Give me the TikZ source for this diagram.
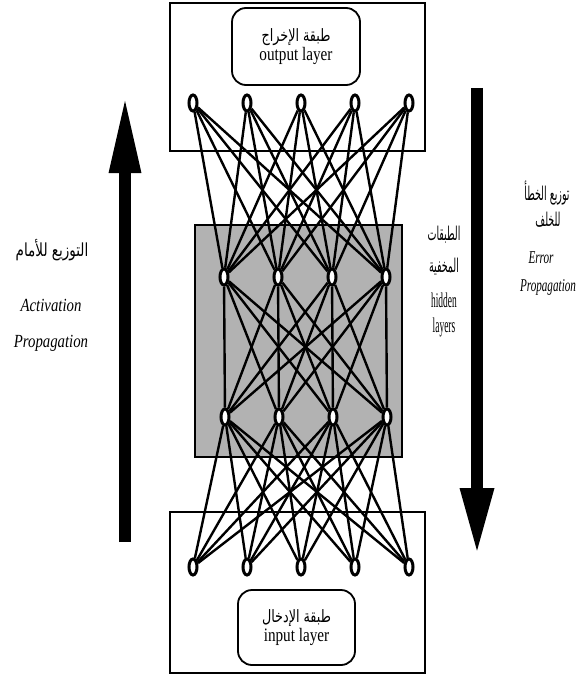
\documentclass[tikz,border=0pt]{standalone}
\usepackage{fontspec}
\setmainfont{Liberation Serif}
\newfontfamily\boxfont{Liberation Serif}[FakeStretch=0.8]
\newfontfamily\errfont{Liberation Serif}[FakeStretch=0.62]
\newfontfamily\hidfont{Liberation Serif}[FakeStretch=0.45]
\newfontfamily\arfont[Script=Arabic,FakeStretch=0.75]{DejaVu Sans}
\newfontfamily\arthinfont[Script=Arabic,FakeStretch=0.5]{DejaVu Sans}
\TeXXeTstate=1
\usetikzlibrary{shapes.geometric, arrows.meta, positioning}

\begin{document}
\begin{tikzpicture}[
    x=1pt, y=-1pt,
    neuron/.style={ellipse, draw, line width=3pt, fill=white, minimum width=8pt, minimum height=16pt, inner sep=0pt},
    layerbox/.style={rectangle, draw, line width=2.4pt},
    labelbox/.style={rectangle, rounded corners=14pt, draw, line width=1.8pt, fill=white, align=center, inner sep=0pt},
    link/.style={line width=2.4pt},
    bigarrow/.style={line width=12pt, -{Triangle[length=78pt, width=29pt]}},
    artext/.style={font={\arfont\fontsize{18}{20}\selectfont}, inner sep=0pt},
    arthin/.style={font={\arthinfont\fontsize{19}{21}\selectfont}, inner sep=0pt},
    sidetext/.style={font={\boxfont\itshape\fontsize{18.5}{20}\selectfont}, inner sep=0pt},
    errtext/.style={font={\errfont\itshape\fontsize{18}{20}\selectfont}, inner sep=0pt},
    hidtext/.style={font={\hidfont\fontsize{21}{22}\selectfont}, inner sep=0pt}
]
\useasboundingbox (0,0) rectangle (582,679);

% layer boxes
\node[layerbox, minimum width=255pt, minimum height=148pt] (outbox) at (297.5,77) {};
\node[layerbox, minimum width=255pt, minimum height=161pt] (inbox) at (297.5,592.5) {};
\node[layerbox, fill=black!30, minimum width=207pt, minimum height=232pt] (hidbox) at (298.5,341) {};

% layer labels
\node[labelbox, minimum width=128pt, minimum height=77pt] (outlabel) at (296,46.5)
    {{\arfont\fontsize{17}{19}\selectfont\beginR طبقة الإخراج\endR}\\[1pt]{\boxfont\fontsize{19}{20}\selectfont output layer}};
\node[labelbox, minimum width=117pt, minimum height=75pt] (inlabel) at (296.5,627.5)
    {{\arfont\fontsize{17}{19}\selectfont\beginR طبقة الإدخال\endR}\\[1pt]{\boxfont\fontsize{19}{20}\selectfont input layer}};

% neurons
\node[neuron] (out1) at (193,103) {};
\node[neuron, right=43pt of out1] (out2) {};
\node[neuron, right=43pt of out2] (out3) {};
\node[neuron, right=43pt of out3] (out4) {};
\node[neuron, right=43pt of out4] (out5) {};
\node[neuron] (hida1) at (224,277) {};
\node[neuron, right=43pt of hida1] (hida2) {};
\node[neuron, right=43pt of hida2] (hida3) {};
\node[neuron, right=43pt of hida3] (hida4) {};
\node[neuron] (hidb1) at (225,417) {};
\node[neuron, right=43pt of hidb1] (hidb2) {};
\node[neuron, right=43pt of hidb2] (hidb3) {};
\node[neuron, right=43pt of hidb3] (hidb4) {};
\node[neuron] (in1) at (193,567) {};
\node[neuron, right=43pt of in1] (in2) {};
\node[neuron, right=43pt of in2] (in3) {};
\node[neuron, right=43pt of in3] (in4) {};
\node[neuron, right=43pt of in4] (in5) {};

% weights
\foreach \i in {1,...,5} \foreach \j in {1,...,4} \draw[link] (out\i) -- (hida\j);
\foreach \i in {1,...,4} \foreach \j in {1,...,4} \draw[link] (hida\i) -- (hidb\j);
\foreach \i in {1,...,5} \foreach \j in {1,...,4} \draw[link] (in\i) -- (hidb\j);

% big arrows
\coordinate (fwdtail) at (125,542);
\coordinate (fwdtip) at (125,95);
\draw[bigarrow] (fwdtail) -- (fwdtip);
\coordinate (backtail) at (477,88);
\coordinate (backtip) at (477,555);
\draw[bigarrow, -{Triangle[length=67pt, width=31pt]}] (backtail) -- (backtip);

% side texts
\node[artext] (fwdar) at (52,250) {\beginR التوزيع للأمام\endR};
\node[sidetext] (fwdtxta) at (51,305) {Activation};
\node[sidetext] (fwdtxtb) at (51,343) {Propagation};
\node[arthin] (hidara) at (444,235) {\beginR الطبقات\endR};
\node[arthin] (hidarb) at (444,267) {\beginR المخفية\endR};
\node[hidtext] (hidtxta) at (444,300) {hidden};
\node[hidtext] (hidtxtb) at (444,327) {layers};
\node[arthin] (backara) at (547,193) {\beginR توزيع الخطأ\endR};
\node[arthin] (backarb) at (548,220) {\beginR للخلف\endR};
\node[errtext] (backtxta) at (541,258) {Error};
\node[errtext] (backtxtb) at (548,287) {Propagation};
\end{tikzpicture}
\end{document}
